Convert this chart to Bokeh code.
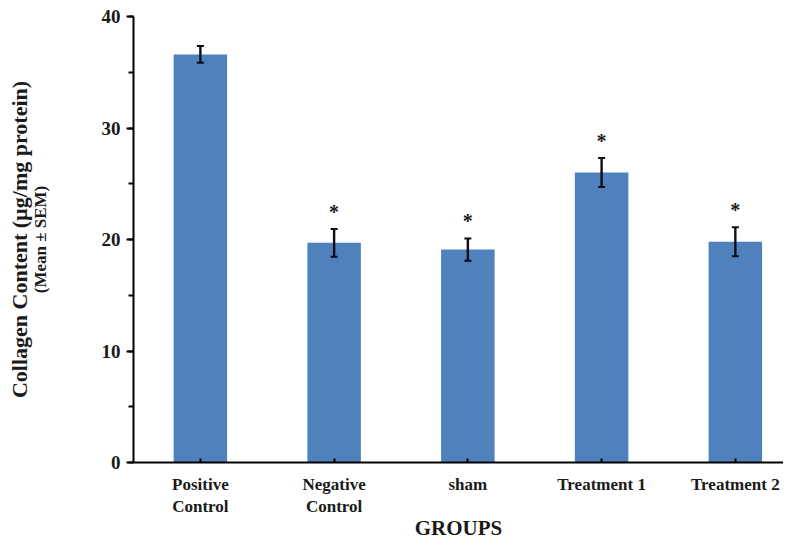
from bokeh.plotting import figure
from bokeh.models import (ColumnDataSource, LinearAxis, FixedTicker, SingleIntervalTicker,
                          Whisker, TeeHead, Range1d)
from bokeh.core.properties import value
from bokeh.embed import file_html
from bokeh.resources import INLINE

groups = ["Positive\nControl", "Negative\nControl", "sham", "Treatment 1", "Treatment 2"]
means = [36.6, 19.7, 19.1, 26.0, 19.8]
sems = [0.75, 1.25, 1.0, 1.3, 1.3]
marks = ["", "*", "*", "*", "*"]

xs = list(range(1, len(groups) + 1))
src = ColumnDataSource(dict(
    x=xs, mean=means,
    upper=[m + s for m, s in zip(means, sems)],
    lower=[m - s for m, s in zip(means, sems)],
    mark=marks,
))

FONT = "Liberation Serif"
INK = "#1a1a1a"

p = figure(width=783, height=543, output_backend="svg", toolbar_location=None,
           x_range=Range1d(0.5, 5.36), y_range=Range1d(0, 40),
           min_border_left=133, min_border_right=0, min_border_top=16, min_border_bottom=0)
p.outline_line_color = None
p.xgrid.visible = False
p.ygrid.visible = False

p.vbar(x="x", top="mean", width=0.4, bottom=0, source=src,
       fill_color="#4F81BD", line_color=None)

w = Whisker(base="x", upper="upper", lower="lower", source=src,
            line_color="#0d0d1a", line_width=2.4,
            upper_head=TeeHead(size=7, line_color="#0d0d1a", line_width=2),
            lower_head=TeeHead(size=7, line_color="#0d0d1a", line_width=2))
w.level = "overlay"
p.add_layout(w)

p.text(x="x", y="upper", text="mark", source=src, text_font=value(FONT),
       text_font_style="bold", text_font_size="20px", text_align="center",
       text_baseline="middle", y_offset=-17, text_color=INK)

# x axis
xa = p.xaxis[0]
xa.ticker = FixedTicker(ticks=xs)
xa.major_label_overrides = {x: g for x, g in zip(xs, groups)}
xa.axis_label = "GROUPS"
xa.axis_line_width = 2
xa.axis_line_color = "black"
xa.major_tick_in = 4
xa.major_tick_out = 0
xa.major_tick_line_width = 2
xa.minor_tick_line_color = None
xa.major_label_standoff = 12
xa.major_label_text_font = FONT
xa.major_label_text_font_style = "bold"
xa.major_label_text_font_size = "17px"
xa.major_label_text_color = INK
xa.axis_label_text_font = FONT
xa.axis_label_text_font_style = "bold"
xa.axis_label_text_font_size = "21px"
xa.axis_label_text_color = INK
xa.axis_label_standoff = -3

# y axis (ticks + inner label)
ya = p.yaxis[0]
ya.ticker = SingleIntervalTicker(interval=10, num_minor_ticks=2)
ya.axis_line_width = 2
ya.axis_line_color = "black"
ya.major_tick_in = 0
ya.major_tick_out = 7
ya.major_tick_line_width = 2
ya.minor_tick_in = 0
ya.minor_tick_out = 5
ya.minor_tick_line_width = 2
ya.major_label_standoff = 6
ya.major_label_text_font = FONT
ya.major_label_text_font_style = "bold"
ya.major_label_text_font_size = "19px"
ya.major_label_text_color = INK
ya.axis_label = "(Mean ± SEM)"
ya.axis_label_text_font = FONT
ya.axis_label_text_font_style = "bold"
ya.axis_label_text_font_size = "17px"
ya.axis_label_text_color = INK
ya.axis_label_standoff = 49

# outer y label
oa = LinearAxis(axis_label="Collagen Content (µg/mg protein)",
                ticker=FixedTicker(ticks=[]),
                axis_line_color=None, major_tick_line_color=None, minor_tick_line_color=None,
                major_label_text_font_size="0px", axis_label_standoff=-4)
oa.axis_label_text_font = FONT
oa.axis_label_text_font_style = "bold"
oa.axis_label_text_font_size = "22px"
oa.axis_label_text_color = INK
p.add_layout(oa, "left")

open("out.html", "w").write(file_html(p, INLINE))
